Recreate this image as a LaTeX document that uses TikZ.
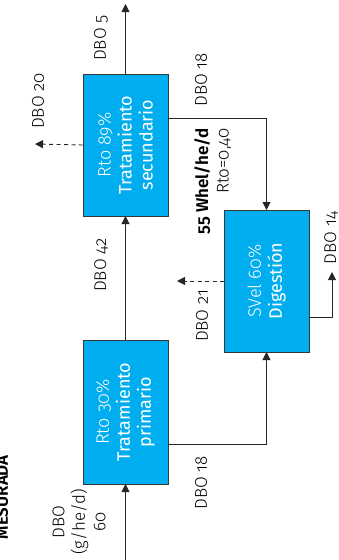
\documentclass[tikz,border=0pt]{standalone}
\usepackage{fontspec}
\setmainfont{Fira Sans Light}[BoldFont={Fira Sans Medium}, Numbers=OldStyle]
\newfontfamily\medf{Fira Sans}[Numbers=OldStyle]
\newfontfamily\semif{Fira Sans SemiBold}[Numbers=OldStyle]
\usetikzlibrary{arrows.meta}
\definecolor{boxblue}{RGB}{0,173,239}
\definecolor{edgegray}{RGB}{55,55,55}
\tikzset{
  box/.style={draw=edgegray, line width=1pt, fill=boxblue, minimum width=85pt, inner sep=0pt, outer sep=0pt},
  boxtext/.style={rotate=90, text=white, align=center, font=\fontsize{18}{21}\selectfont, inner sep=0pt},
  lbl/.style={rotate=90, align=center, font=\fontsize{17}{20.5}\selectfont, inner sep=0pt},
  conn/.style={draw=black!85, line width=0.9pt},
  arr/.style={conn, -{Triangle[length=8pt, width=8pt]}},
  darr/.style={arr, dash pattern=on 4pt off 3.5pt},
}
\begin{document}
\begin{tikzpicture}[x=1pt, y=-1pt]
\useasboundingbox (0,0) rectangle (339,560);
% boxes
\node[box, minimum height=144pt] (p) at (125.5,412) {};
\node[box, minimum height=142pt] (s) at (125.5,145) {};
\node[box, minimum height=142pt] (d) at (266.5,281) {};
\node[boxtext] (pt) at (p.center) {Rto 30\%\\{\medf Tratamiento}\\{\medf primario}};
\node[boxtext] (st) at (s.center) {Rto 89\%\\{\medf Tratamiento}\\{\medf secundario}};
\node[boxtext] (dt) at (d.center) {SVel 60\%\\{\medf Digestión}};
% free ends
\coordinate (in) at (125.5,560);
\coordinate (out) at (125.5,4);
\coordinate (s20) at (35,144);
\coordinate (d21) at (177,281);
\coordinate (d14) at (332,272);
% connectors
\draw[arr] (in) -- (p.south);
\draw[arr] (p.north) -- (s.south);
\draw[arr] (s.north) -- (out);
\draw[arr] ([yshift=-32pt]p.east) -| (d.south);
\draw[arr] ([yshift=27pt]s.east) -| (d.north);
\draw[darr] (s.west) -- (s20);
\draw[darr] (d.west) -- (d21);
\draw[arr] ([yshift=-36pt]d.east) -| (d14);
% labels
\node[lbl, anchor=base east, font=\fontsize{17}{20}\semif] (title) at (8,455) {MESURADA};
\node[lbl] (lin) at (79,522) {DBO\\(g/he/d)\\60};
\node[lbl] (l18a) at (201,483) {DBO 18};
\node[lbl] (l42) at (101,265) {DBO 42};
\node[lbl] (l5) at (101,38) {DBO 5};
\node[lbl] (l20) at (38,101) {DBO 20};
\node[lbl] (l18b) at (201,80) {DBO 18};
\node[lbl, anchor=north east, align=right] (lw) at (194,128) {{\semif 55 Whel/he/d}\\Rto=0,40};
\node[lbl] (l21) at (202,316) {DBO 21};
\node[lbl] (l14) at (331,238) {DBO 14};
\end{tikzpicture}
\end{document}
